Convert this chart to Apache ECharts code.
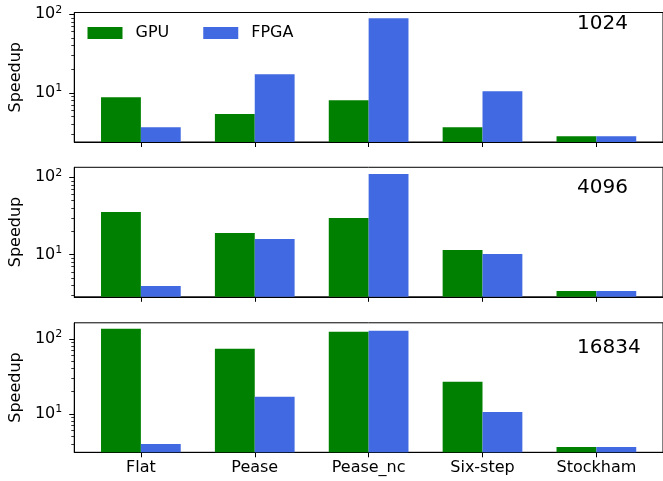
<html lang="en">
<head>
    <meta charset="UTF-8">
    <title>Speedup</title>
    <script src="https://cdn.jsdelivr.net/npm/echarts@6/dist/echarts.min.js"></script>
</head>
<style>
    body { margin: 0; }
    #container { width: 663px; height: 481px; }
</style>
<body>
<div id="container"></div>
<script>
    var chart = echarts.init(document.getElementById('container'));

    // data
    var categories = ['Flat', 'Pease', 'Pease_nc', 'Six-step', 'Stockham'];
    var sizes = ['1024', '4096', '16834'];
    var gpu1024 = [8.8, 5.4, 8.1, 3.66, 2.82];
    var fpga1024 = [3.66, 17.3, 89, 10.5, 2.82];
    var gpu4096 = [35.7, 19.1, 29.8, 11.5, 3.39];
    var fpga4096 = [3.95, 16.0, 110, 10.2, 3.39];
    var gpu16834 = [136, 73.6, 124, 26.7, 3.63];
    var fpga16834 = [3.98, 16.9, 128, 10.6, 3.63];
    var yMin = [2.386, 2.86, 3.08];
    var yMax = [105.1, 134.6, 163.4];
    var majorTicks = [1, 10, 100, 1000];
    var minorTicks = [2, 3, 4, 5, 6, 7, 8, 9, 20, 30, 40, 50, 60, 70, 80, 90, 200];
    var catTicks = [0, 1, 2, 3, 4];

    var gpuData = [gpu1024, gpu4096, gpu16834];
    var fpgaData = [fpga1024, fpga4096, fpga16834];

    var gridTops = [12.5, 167.3, 322.8];
    var titleTops = [14, 178, 338];
    var font = 'DejaVu Sans';

    function pairs(values)
    {
        return values.map(function (v, i) { return [i, v]; });
    }

    var grids = [], xAxes = [], yAxes = [], series = [], titles = [];
    for (var i = 0; i < 3; i++)
    {
        grids.push({
            left: 73, top: gridTops[i], width: 592, height: 129.5,
            show: true, borderColor: '#000', borderWidth: 1
        });
        titles.push({
            text: sizes[i], left: 577, top: titleTops[i], padding: 0,
            textStyle: { fontFamily: font, fontSize: 20, fontWeight: 'normal', color: '#000' }
        });
        xAxes.push({
            type: 'value', gridIndex: i, min: -0.585, max: 4.585,
            splitLine: { show: false },
            axisLine: { show: true, onZero: false, lineStyle: { color: '#000', width: 1 } },
            axisTick: { customValues: catTicks, length: 5, lineStyle: { color: '#000', width: 1 } },
            axisLabel: {
                show: i === 2, customValues: catTicks, margin: 8,
                fontFamily: font, fontSize: 16, color: '#000',
                formatter: function (v) { return categories[Math.round(v)]; }
            }
        });
        yAxes.push({
            type: 'log', gridIndex: i, position: 'left', min: yMin[i], max: yMax[i],
            name: 'Speedup', nameLocation: 'middle', nameGap: 47,
            nameTextStyle: { fontFamily: font, fontSize: 16, color: '#000' },
            splitLine: { show: false },
            axisLine: { show: true, onZero: false, lineStyle: { color: '#000', width: 1 } },
            axisTick: { customValues: majorTicks, length: 5, lineStyle: { color: '#000', width: 1 } },
            axisLabel: {
                customValues: majorTicks, margin: 12,
                formatter: function (v)
                {
                    return '{b|10}{s|' + Math.round(Math.log10(v)) + '}';
                },
                rich: {
                    b: { fontFamily: font, fontSize: 16, lineHeight: 20, color: '#000' },
                    s: { fontFamily: font, fontSize: 11, lineHeight: 14, verticalAlign: 'top', color: '#000' }
                }
            }
        });
        // second log axis on the same side, only for the minor ticks
        yAxes.push({
            type: 'log', gridIndex: i, position: 'left', offset: 0, min: yMin[i], max: yMax[i],
            splitLine: { show: false },
            axisLine: { show: false, onZero: false },
            axisLabel: { show: false },
            axisTick: { show: true, customValues: minorTicks, length: 3, lineStyle: { color: '#000', width: 0.8 } }
        });
        series.push({
            name: 'GPU', type: 'bar', xAxisIndex: i, yAxisIndex: 2 * i,
            barWidth: '35%', barGap: '0%', clip: true,
            itemStyle: { color: 'green' },
            data: pairs(gpuData[i])
        });
        series.push({
            name: 'FPGA', type: 'bar', xAxisIndex: i, yAxisIndex: 2 * i,
            barWidth: '35%', barGap: '0%', clip: true,
            itemStyle: { color: '#4169E1' },
            data: pairs(fpgaData[i])
        });
    }

    var option = {
        animation: false,
        textStyle: { fontFamily: font },
        title: titles,
        legend: {
            data: ['GPU', 'FPGA'],
            left: 87.5, top: 25, padding: 0,
            icon: 'rect', itemWidth: 35, itemHeight: 12, itemGap: 34,
            textStyle: { fontFamily: font, fontSize: 16, color: '#000', padding: [0, 0, 0, 8] }
        },
        grid: grids,
        xAxis: xAxes,
        yAxis: yAxes,
        series: series
    };

    chart.setOption(option);
</script>
</body>
</html>
